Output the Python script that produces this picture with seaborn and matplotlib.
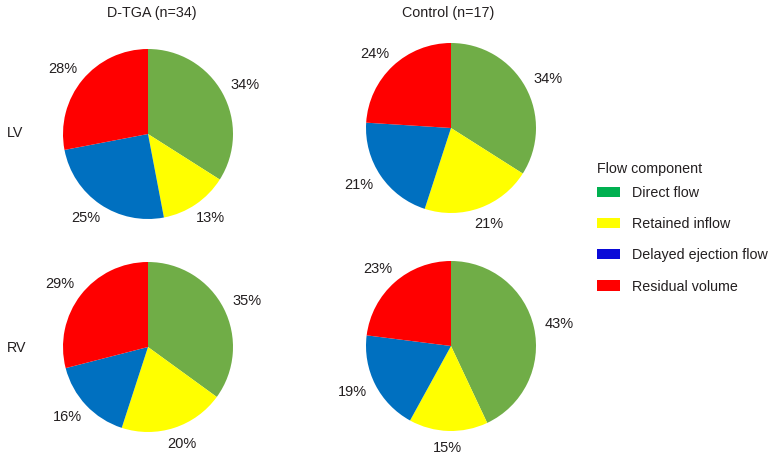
import matplotlib
matplotlib.use("Agg")
import matplotlib.pyplot as plt
from matplotlib.patches import Patch
import numpy as np
import seaborn as sns

# Data
components = ["Direct flow", "Retained inflow", "Delayed ejection flow", "Residual volume"]
groups = ["D-TGA (n=34)", "Control (n=17)"]
ventricles = ["LV", "RV"]
lv_dtga = [34, 13, 25, 28]
lv_control = [34, 21, 21, 24]
rv_dtga = [35, 20, 16, 29]
rv_control = [43, 15, 19, 23]

pie_colors = ["#70ad47", "#ffff00", "#0070c0", "#ff0000"]
legend_colors = ["#00b050", "#ffff00", "#0a0ad8", "#ff0000"]
txt_color = '#231f20'

sns.set_theme(style="white")
plt.rcParams['font.family'] = ['Liberation Sans', 'DejaVu Sans']

W, H = 776, 457
fig = plt.figure(figsize=(W / 100, H / 100), dpi=100)

# pixel centres and radius of each pie
panels = [
    (lv_dtga, 148, 134, 85),
    (lv_control, 451, 128, 85),
    (rv_dtga, 148, 347, 85),
    (rv_control, 451, 346, 85),
]

for vals, cx, cy, r in panels:
    ax = fig.add_axes([(cx - r) / W, (H - cy - r) / H, 2 * r / W, 2 * r / H])
    wedges, texts = ax.pie(vals, labels=[f"{v}%" for v in vals], colors=pie_colors,
                           startangle=90, counterclock=False,
                           textprops={'fontsize': 10.5, 'color': txt_color},
                           wedgeprops={'linewidth': 0})
    # put labels just outside the rim, like "outside end" labels
    gap, half_w, half_h = 11 / r, 15 / r, 6 / r
    for w, t in zip(wedges, texts):
        ang = np.deg2rad((w.theta1 + w.theta2) / 2)
        c, s = np.cos(ang), np.sin(ang)
        t.set_position(((1 + gap) * c + half_w * c, (1 + gap) * s + half_h * s))
        t.set_ha('center')
        t.set_va('center')
    ax.set_xlim(-1, 1)
    ax.set_ylim(-1, 1)
    ax.set_aspect('equal')
    ax.axis('off')

# column titles and row labels
fs = 10.3
fig.text(152 / W, 1 - 13 / H, groups[0], ha='center', va='center', fontsize=fs, color=txt_color)
fig.text(448 / W, 1 - 13 / H, groups[1], ha='center', va='center', fontsize=fs, color=txt_color)
fig.text(7 / W, 1 - 133 / H, ventricles[0], ha='left', va='center', fontsize=fs, color=txt_color)
fig.text(7 / W, 1 - 348 / H, ventricles[1], ha='left', va='center', fontsize=fs, color=txt_color)

# legend: title drawn separately so the gap under it can be tighter
fig.text(597 / W, 1 - 169 / H, "Flow component", ha='left', va='center', fontsize=fs, color=txt_color)
handles = [Patch(facecolor=c, edgecolor='none', label=l) for c, l in zip(legend_colors, components)]
leg = fig.legend(handles=handles, loc='upper left',
                 bbox_to_anchor=(597 / W, 1 - 186 / H), frameon=False, borderpad=0,
                 borderaxespad=0, fontsize=fs, handlelength=1.6, handleheight=0.7,
                 handletextpad=0.85, labelspacing=1.2)
for t in leg.get_texts():
    t.set_color(txt_color)

fig.savefig("out.png", dpi=100)
